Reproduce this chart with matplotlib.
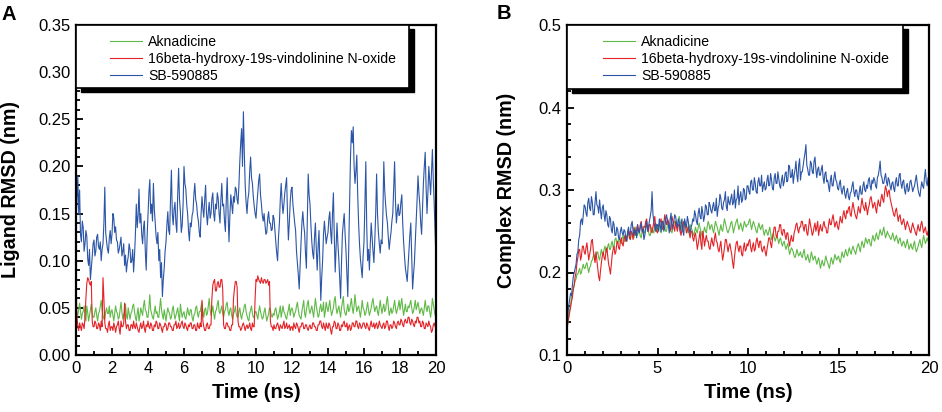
import numpy as np
import matplotlib
matplotlib.use("Agg")
from matplotlib import pyplot as plt
from matplotlib.patches import Rectangle
from matplotlib.ticker import MultipleLocator

plt.rcParams['font.family'] = ['Liberation Sans', 'DejaVu Sans']

# time axis, ns (one frame every 0.05 ns)
time = np.linspace(0, 20, 401)

labels = ["Aknadicine", "16beta-hydroxy-19s-vindolinine N-oxide", "SB-590885"]
colors = ["#5fb946", "#e32226", "#2b55a6"]

# panel A: ligand RMSD (nm), one row per ns
lig_akn = [
    0.050, 0.044, 0.042, 0.048, 0.055, 0.046, 0.038, 0.044, 0.046, 0.052, 0.040, 0.036, 0.052, 0.045, 0.036, 0.042, 0.048, 0.054, 0.044, 0.040,
    0.040, 0.046, 0.050, 0.042, 0.036, 0.044, 0.046, 0.052, 0.058, 0.048, 0.042, 0.038, 0.038, 0.046, 0.050, 0.044, 0.044, 0.052, 0.040, 0.046,
    0.048, 0.042, 0.036, 0.044, 0.052, 0.046, 0.044, 0.038, 0.040, 0.048, 0.056, 0.046, 0.038, 0.042, 0.046, 0.054, 0.042, 0.038, 0.050, 0.044,
    0.038, 0.044, 0.046, 0.052, 0.054, 0.046, 0.040, 0.036, 0.044, 0.050, 0.036, 0.042, 0.050, 0.046, 0.042, 0.052, 0.058, 0.048, 0.046, 0.040,
    0.040, 0.050, 0.064, 0.048, 0.044, 0.040, 0.038, 0.046, 0.052, 0.044, 0.046, 0.040, 0.040, 0.050, 0.060, 0.048, 0.042, 0.038, 0.048, 0.042,
    0.036, 0.044, 0.050, 0.046, 0.044, 0.038, 0.040, 0.048, 0.052, 0.044, 0.038, 0.042, 0.046, 0.050, 0.042, 0.036, 0.054, 0.046, 0.040, 0.044,
    0.046, 0.040, 0.038, 0.044, 0.050, 0.044, 0.042, 0.048, 0.048, 0.040, 0.036, 0.042, 0.044, 0.050, 0.052, 0.044, 0.040, 0.046, 0.046, 0.052,
    0.056, 0.046, 0.040, 0.048, 0.050, 0.042, 0.044, 0.052, 0.060, 0.048, 0.042, 0.046, 0.052, 0.044, 0.038, 0.046, 0.048, 0.054, 0.058, 0.046,
    0.044, 0.048, 0.052, 0.044, 0.040, 0.046, 0.048, 0.054, 0.056, 0.046, 0.042, 0.048, 0.050, 0.042, 0.038, 0.044, 0.046, 0.052, 0.044, 0.040,
    0.040, 0.046, 0.050, 0.042, 0.038, 0.044, 0.046, 0.052, 0.054, 0.046, 0.042, 0.038, 0.036, 0.044, 0.048, 0.052, 0.044, 0.040, 0.040, 0.046,
    0.046, 0.042, 0.038, 0.046, 0.052, 0.046, 0.042, 0.038, 0.040, 0.046, 0.050, 0.042, 0.036, 0.040, 0.044, 0.050, 0.048, 0.042, 0.040, 0.044,
    0.042, 0.048, 0.050, 0.044, 0.038, 0.042, 0.046, 0.052, 0.040, 0.046, 0.052, 0.046, 0.044, 0.040, 0.038, 0.044, 0.048, 0.054, 0.042, 0.048,
    0.050, 0.046, 0.040, 0.044, 0.046, 0.052, 0.056, 0.048, 0.042, 0.040, 0.038, 0.046, 0.052, 0.058, 0.044, 0.040, 0.048, 0.054, 0.058, 0.048,
    0.044, 0.048, 0.052, 0.046, 0.040, 0.050, 0.060, 0.052, 0.046, 0.040, 0.042, 0.050, 0.054, 0.046, 0.048, 0.056, 0.040, 0.046, 0.056, 0.050,
    0.046, 0.052, 0.058, 0.048, 0.042, 0.046, 0.050, 0.058, 0.062, 0.050, 0.044, 0.048, 0.052, 0.046, 0.040, 0.050, 0.056, 0.062, 0.048, 0.044,
    0.042, 0.048, 0.054, 0.046, 0.048, 0.054, 0.060, 0.050, 0.044, 0.052, 0.064, 0.054, 0.046, 0.050, 0.052, 0.046, 0.040, 0.048, 0.058, 0.050,
    0.048, 0.042, 0.044, 0.050, 0.056, 0.048, 0.042, 0.046, 0.050, 0.056, 0.060, 0.052, 0.046, 0.050, 0.052, 0.046, 0.042, 0.050, 0.058, 0.050,
    0.044, 0.050, 0.054, 0.046, 0.048, 0.056, 0.062, 0.052, 0.042, 0.046, 0.050, 0.044, 0.046, 0.052, 0.058, 0.050, 0.044, 0.048, 0.052, 0.058,
    0.048, 0.054, 0.060, 0.050, 0.042, 0.048, 0.054, 0.046, 0.046, 0.052, 0.050, 0.054, 0.058, 0.050, 0.044, 0.046, 0.052, 0.058, 0.048, 0.052,
    0.056, 0.050, 0.044, 0.048, 0.050, 0.046, 0.042, 0.050, 0.058, 0.050, 0.046, 0.052, 0.052, 0.046, 0.040, 0.048, 0.060, 0.054, 0.048, 0.042,
    0.044]
lig_vin = [
    0.080, 0.042, 0.030, 0.026, 0.034, 0.030, 0.026, 0.034, 0.032, 0.028, 0.040, 0.060, 0.076, 0.082, 0.080, 0.076, 0.074, 0.078, 0.036, 0.030,
    0.030, 0.036, 0.034, 0.028, 0.028, 0.034, 0.032, 0.026, 0.036, 0.030, 0.082, 0.060, 0.034, 0.028, 0.028, 0.024, 0.032, 0.036, 0.026, 0.030,
    0.030, 0.026, 0.034, 0.030, 0.024, 0.030, 0.032, 0.036, 0.028, 0.022, 0.036, 0.030, 0.030, 0.034, 0.055, 0.036, 0.028, 0.032, 0.032, 0.026,
    0.026, 0.032, 0.032, 0.028, 0.036, 0.030, 0.028, 0.034, 0.030, 0.026, 0.024, 0.030, 0.034, 0.028, 0.030, 0.036, 0.028, 0.024, 0.032, 0.030,
    0.036, 0.030, 0.028, 0.034, 0.032, 0.026, 0.026, 0.032, 0.030, 0.036, 0.034, 0.028, 0.028, 0.034, 0.032, 0.028, 0.024, 0.030, 0.030, 0.034,
    0.032, 0.026, 0.028, 0.034, 0.034, 0.030, 0.030, 0.026, 0.026, 0.032, 0.032, 0.036, 0.028, 0.030, 0.034, 0.028, 0.030, 0.034, 0.036, 0.030,
    0.028, 0.034, 0.032, 0.028, 0.026, 0.032, 0.030, 0.034, 0.034, 0.028, 0.028, 0.032, 0.032, 0.026, 0.026, 0.034, 0.030, 0.028, 0.034, 0.030,
    0.058, 0.036, 0.030, 0.026, 0.026, 0.032, 0.034, 0.028, 0.028, 0.032, 0.032, 0.060, 0.074, 0.078, 0.080, 0.068, 0.068, 0.076, 0.078, 0.072,
    0.072, 0.080, 0.080, 0.070, 0.032, 0.028, 0.028, 0.034, 0.034, 0.030, 0.030, 0.026, 0.026, 0.032, 0.032, 0.060, 0.070, 0.078, 0.078, 0.072,
    0.036, 0.030, 0.030, 0.026, 0.028, 0.032, 0.034, 0.030, 0.026, 0.030, 0.032, 0.028, 0.030, 0.034, 0.028, 0.026, 0.034, 0.030, 0.030, 0.060,
    0.080, 0.078, 0.084, 0.080, 0.078, 0.076, 0.082, 0.078, 0.076, 0.080, 0.080, 0.076, 0.078, 0.080, 0.074, 0.078, 0.036, 0.030, 0.030, 0.026,
    0.032, 0.028, 0.028, 0.032, 0.034, 0.030, 0.026, 0.032, 0.030, 0.028, 0.032, 0.036, 0.028, 0.030, 0.034, 0.028, 0.030, 0.032, 0.026, 0.030,
    0.030, 0.026, 0.034, 0.030, 0.028, 0.034, 0.032, 0.028, 0.024, 0.030, 0.030, 0.034, 0.034, 0.028, 0.028, 0.032, 0.032, 0.028, 0.026, 0.030,
    0.032, 0.028, 0.028, 0.034, 0.034, 0.030, 0.030, 0.026, 0.026, 0.032, 0.032, 0.036, 0.036, 0.030, 0.028, 0.034, 0.030, 0.026, 0.034, 0.030,
    0.028, 0.034, 0.032, 0.026, 0.022, 0.030, 0.030, 0.036, 0.034, 0.028, 0.028, 0.034, 0.032, 0.026, 0.026, 0.032, 0.030, 0.034, 0.036, 0.030,
    0.030, 0.034, 0.026, 0.030, 0.032, 0.026, 0.028, 0.034, 0.034, 0.030, 0.030, 0.036, 0.036, 0.030, 0.028, 0.034, 0.032, 0.028, 0.030, 0.034,
    0.034, 0.030, 0.028, 0.034, 0.032, 0.028, 0.026, 0.032, 0.036, 0.030, 0.030, 0.034, 0.028, 0.032, 0.034, 0.028, 0.030, 0.036, 0.032, 0.030,
    0.028, 0.032, 0.034, 0.028, 0.030, 0.036, 0.036, 0.030, 0.026, 0.032, 0.032, 0.028, 0.030, 0.036, 0.034, 0.030, 0.028, 0.034, 0.036, 0.032,
    0.032, 0.038, 0.036, 0.032, 0.030, 0.036, 0.038, 0.034, 0.034, 0.040, 0.040, 0.034, 0.032, 0.038, 0.036, 0.032, 0.030, 0.036, 0.034, 0.040,
    0.040, 0.034, 0.036, 0.030, 0.030, 0.036, 0.034, 0.028, 0.028, 0.034, 0.032, 0.030, 0.036, 0.032, 0.030, 0.024, 0.026, 0.032, 0.034, 0.030,
    0.030]
lig_sb = [
    0.140, 0.165, 0.190, 0.150, 0.175, 0.128, 0.120, 0.142, 0.135, 0.110, 0.118, 0.132, 0.126, 0.102, 0.095, 0.112, 0.080, 0.092, 0.104, 0.118,
    0.122, 0.105, 0.110, 0.125, 0.128, 0.115, 0.112, 0.120, 0.100, 0.112, 0.118, 0.140, 0.178, 0.130, 0.120, 0.112, 0.108, 0.124, 0.132, 0.118,
    0.128, 0.150, 0.145, 0.130, 0.136, 0.122, 0.120, 0.108, 0.112, 0.118, 0.125, 0.105, 0.110, 0.118, 0.095, 0.106, 0.088, 0.098, 0.104, 0.118,
    0.112, 0.098, 0.100, 0.112, 0.088, 0.105, 0.128, 0.160, 0.135, 0.148, 0.176, 0.140, 0.150, 0.128, 0.118, 0.135, 0.142, 0.110, 0.090, 0.125,
    0.150, 0.172, 0.186, 0.150, 0.160, 0.142, 0.182, 0.155, 0.140, 0.126, 0.118, 0.130, 0.100, 0.112, 0.082, 0.098, 0.062, 0.080, 0.092, 0.110,
    0.120, 0.138, 0.152, 0.132, 0.128, 0.165, 0.196, 0.150, 0.138, 0.155, 0.162, 0.140, 0.130, 0.170, 0.198, 0.165, 0.152, 0.130, 0.138, 0.160,
    0.200, 0.182, 0.176, 0.160, 0.150, 0.132, 0.121, 0.140, 0.136, 0.148, 0.152, 0.170, 0.182, 0.165, 0.160, 0.148, 0.142, 0.130, 0.125, 0.150,
    0.168, 0.155, 0.146, 0.165, 0.180, 0.150, 0.138, 0.152, 0.162, 0.145, 0.150, 0.166, 0.172, 0.150, 0.142, 0.160, 0.155, 0.172, 0.166, 0.150,
    0.140, 0.165, 0.182, 0.158, 0.160, 0.142, 0.131, 0.165, 0.188, 0.150, 0.120, 0.148, 0.170, 0.160, 0.150, 0.168, 0.162, 0.178, 0.176, 0.165,
    0.160, 0.180, 0.205, 0.225, 0.240, 0.200, 0.258, 0.215, 0.180, 0.162, 0.150, 0.165, 0.172, 0.195, 0.210, 0.188, 0.182, 0.168, 0.158, 0.150,
    0.145, 0.160, 0.172, 0.185, 0.192, 0.170, 0.160, 0.148, 0.142, 0.150, 0.138, 0.128, 0.130, 0.145, 0.152, 0.140, 0.140, 0.132, 0.133, 0.148,
    0.145, 0.132, 0.120, 0.108, 0.100, 0.125, 0.140, 0.165, 0.182, 0.162, 0.150, 0.160, 0.172, 0.180, 0.188, 0.150, 0.122, 0.140, 0.162, 0.175,
    0.178, 0.160, 0.150, 0.140, 0.132, 0.110, 0.098, 0.085, 0.070, 0.095, 0.118, 0.140, 0.152, 0.138, 0.130, 0.108, 0.092, 0.140, 0.192, 0.170,
    0.160, 0.138, 0.120, 0.108, 0.102, 0.125, 0.140, 0.112, 0.090, 0.115, 0.132, 0.095, 0.058, 0.082, 0.100, 0.128, 0.142, 0.130, 0.118, 0.125,
    0.130, 0.145, 0.152, 0.130, 0.118, 0.150, 0.172, 0.125, 0.088, 0.115, 0.140, 0.118, 0.102, 0.080, 0.060, 0.098, 0.128, 0.140, 0.150, 0.128,
    0.110, 0.085, 0.062, 0.110, 0.160, 0.210, 0.238, 0.225, 0.242, 0.200, 0.182, 0.195, 0.212, 0.170, 0.140, 0.118, 0.102, 0.092, 0.082, 0.105,
    0.120, 0.160, 0.205, 0.138, 0.100, 0.112, 0.090, 0.118, 0.140, 0.125, 0.110, 0.098, 0.122, 0.150, 0.192, 0.150, 0.130, 0.118, 0.108, 0.122,
    0.118, 0.150, 0.205, 0.175, 0.160, 0.148, 0.140, 0.125, 0.112, 0.122, 0.130, 0.142, 0.150, 0.178, 0.205, 0.162, 0.140, 0.152, 0.160, 0.148,
    0.150, 0.162, 0.170, 0.140, 0.120, 0.105, 0.092, 0.085, 0.078, 0.095, 0.110, 0.128, 0.140, 0.105, 0.070, 0.085, 0.098, 0.120, 0.142, 0.165,
    0.190, 0.172, 0.160, 0.140, 0.128, 0.155, 0.182, 0.200, 0.215, 0.178, 0.150, 0.172, 0.200, 0.185, 0.170, 0.195, 0.218, 0.185, 0.160, 0.130,
    0.100]

# panel B: complex RMSD (nm), one row per ns
cpx_akn = [
    0.130, 0.140, 0.150, 0.155, 0.162, 0.170, 0.175, 0.180, 0.185, 0.190, 0.192, 0.198, 0.198, 0.202, 0.205, 0.198, 0.200, 0.206, 0.210, 0.205,
    0.205, 0.210, 0.212, 0.205, 0.200, 0.206, 0.208, 0.214, 0.215, 0.220, 0.222, 0.215, 0.218, 0.224, 0.225, 0.218, 0.215, 0.222, 0.228, 0.222,
    0.222, 0.228, 0.232, 0.225, 0.225, 0.232, 0.235, 0.228, 0.228, 0.235, 0.238, 0.230, 0.232, 0.240, 0.242, 0.236, 0.235, 0.240, 0.240, 0.236,
    0.235, 0.242, 0.245, 0.238, 0.238, 0.245, 0.242, 0.246, 0.250, 0.242, 0.240, 0.246, 0.248, 0.242, 0.242, 0.252, 0.255, 0.248, 0.245, 0.250,
    0.250, 0.244, 0.242, 0.250, 0.255, 0.248, 0.248, 0.255, 0.258, 0.252, 0.250, 0.245, 0.245, 0.252, 0.255, 0.250, 0.248, 0.256, 0.260, 0.254,
    0.252, 0.256, 0.258, 0.250, 0.248, 0.256, 0.262, 0.258, 0.255, 0.250, 0.250, 0.258, 0.262, 0.258, 0.255, 0.250, 0.248, 0.254, 0.258, 0.262,
    0.262, 0.258, 0.255, 0.262, 0.268, 0.262, 0.258, 0.252, 0.250, 0.258, 0.262, 0.256, 0.255, 0.250, 0.248, 0.254, 0.258, 0.255, 0.252, 0.248,
    0.245, 0.250, 0.255, 0.250, 0.248, 0.255, 0.260, 0.254, 0.250, 0.245, 0.242, 0.250, 0.255, 0.250, 0.248, 0.256, 0.262, 0.258, 0.252, 0.256,
    0.258, 0.252, 0.248, 0.255, 0.262, 0.258, 0.255, 0.250, 0.245, 0.252, 0.258, 0.252, 0.250, 0.258, 0.265, 0.260, 0.255, 0.250, 0.248, 0.252,
    0.255, 0.260, 0.262, 0.255, 0.248, 0.254, 0.258, 0.262, 0.265, 0.258, 0.252, 0.256, 0.260, 0.255, 0.250, 0.256, 0.262, 0.258, 0.255, 0.258,
    0.258, 0.262, 0.265, 0.258, 0.252, 0.258, 0.262, 0.258, 0.255, 0.250, 0.248, 0.255, 0.260, 0.255, 0.252, 0.256, 0.258, 0.250, 0.245, 0.250,
    0.252, 0.248, 0.245, 0.250, 0.255, 0.248, 0.240, 0.244, 0.248, 0.242, 0.238, 0.242, 0.245, 0.240, 0.235, 0.240, 0.242, 0.236, 0.232, 0.236,
    0.238, 0.232, 0.228, 0.232, 0.235, 0.228, 0.222, 0.226, 0.230, 0.228, 0.225, 0.220, 0.218, 0.222, 0.228, 0.224, 0.220, 0.222, 0.225, 0.220,
    0.218, 0.224, 0.228, 0.220, 0.215, 0.218, 0.222, 0.216, 0.212, 0.218, 0.225, 0.220, 0.215, 0.218, 0.220, 0.215, 0.210, 0.214, 0.218, 0.212,
    0.205, 0.210, 0.215, 0.210, 0.208, 0.214, 0.220, 0.215, 0.212, 0.208, 0.205, 0.212, 0.218, 0.214, 0.210, 0.216, 0.222, 0.218, 0.215, 0.218,
    0.220, 0.215, 0.212, 0.218, 0.225, 0.220, 0.218, 0.224, 0.228, 0.222, 0.220, 0.226, 0.230, 0.225, 0.222, 0.228, 0.232, 0.228, 0.225, 0.222,
    0.228, 0.232, 0.235, 0.230, 0.225, 0.232, 0.238, 0.234, 0.230, 0.236, 0.242, 0.238, 0.235, 0.240, 0.240, 0.234, 0.232, 0.240, 0.245, 0.240,
    0.238, 0.244, 0.248, 0.242, 0.240, 0.246, 0.252, 0.248, 0.245, 0.250, 0.255, 0.248, 0.242, 0.246, 0.250, 0.246, 0.245, 0.242, 0.240, 0.244,
    0.248, 0.242, 0.238, 0.242, 0.245, 0.240, 0.235, 0.240, 0.242, 0.236, 0.232, 0.236, 0.238, 0.234, 0.230, 0.235, 0.240, 0.234, 0.228, 0.232,
    0.235, 0.230, 0.228, 0.234, 0.238, 0.230, 0.225, 0.228, 0.232, 0.236, 0.240, 0.234, 0.230, 0.238, 0.245, 0.240, 0.235, 0.238, 0.242, 0.238,
    0.238]
cpx_vin = [
    0.130, 0.140, 0.145, 0.152, 0.158, 0.165, 0.170, 0.180, 0.185, 0.195, 0.200, 0.212, 0.218, 0.228, 0.228, 0.215, 0.220, 0.232, 0.232, 0.225,
    0.222, 0.230, 0.236, 0.225, 0.215, 0.222, 0.228, 0.238, 0.240, 0.228, 0.218, 0.212, 0.225, 0.215, 0.205, 0.195, 0.190, 0.202, 0.212, 0.220,
    0.225, 0.218, 0.215, 0.225, 0.230, 0.220, 0.210, 0.205, 0.198, 0.210, 0.222, 0.228, 0.232, 0.222, 0.225, 0.235, 0.238, 0.230, 0.228, 0.238,
    0.242, 0.235, 0.232, 0.240, 0.245, 0.238, 0.238, 0.246, 0.250, 0.242, 0.240, 0.250, 0.248, 0.240, 0.255, 0.250, 0.245, 0.252, 0.258, 0.250,
    0.250, 0.258, 0.262, 0.252, 0.248, 0.256, 0.255, 0.262, 0.265, 0.255, 0.250, 0.258, 0.258, 0.250, 0.248, 0.255, 0.262, 0.268, 0.255, 0.250,
    0.248, 0.255, 0.258, 0.262, 0.265, 0.255, 0.252, 0.260, 0.270, 0.262, 0.258, 0.265, 0.262, 0.255, 0.250, 0.258, 0.268, 0.262, 0.255, 0.250,
    0.262, 0.255, 0.250, 0.258, 0.258, 0.250, 0.245, 0.252, 0.255, 0.262, 0.262, 0.255, 0.248, 0.252, 0.256, 0.248, 0.242, 0.250, 0.250, 0.242,
    0.238, 0.245, 0.248, 0.238, 0.228, 0.235, 0.242, 0.250, 0.235, 0.228, 0.250, 0.242, 0.232, 0.240, 0.245, 0.238, 0.238, 0.230, 0.228, 0.236,
    0.242, 0.235, 0.232, 0.242, 0.248, 0.238, 0.236, 0.228, 0.225, 0.232, 0.238, 0.225, 0.215, 0.222, 0.230, 0.240, 0.240, 0.232, 0.225, 0.232,
    0.235, 0.228, 0.222, 0.212, 0.205, 0.218, 0.228, 0.236, 0.238, 0.230, 0.225, 0.232, 0.232, 0.222, 0.220, 0.230, 0.236, 0.226, 0.228, 0.235,
    0.232, 0.238, 0.240, 0.230, 0.225, 0.232, 0.236, 0.226, 0.228, 0.238, 0.242, 0.235, 0.230, 0.238, 0.238, 0.228, 0.225, 0.230, 0.232, 0.225,
    0.220, 0.228, 0.235, 0.242, 0.242, 0.235, 0.230, 0.240, 0.248, 0.255, 0.255, 0.245, 0.242, 0.250, 0.250, 0.258, 0.258, 0.248, 0.245, 0.252,
    0.252, 0.245, 0.240, 0.248, 0.248, 0.238, 0.232, 0.240, 0.245, 0.238, 0.238, 0.248, 0.252, 0.258, 0.260, 0.252, 0.248, 0.255, 0.255, 0.262,
    0.262, 0.255, 0.250, 0.258, 0.258, 0.248, 0.245, 0.255, 0.265, 0.258, 0.252, 0.245, 0.248, 0.255, 0.260, 0.250, 0.255, 0.262, 0.245, 0.252,
    0.258, 0.252, 0.250, 0.258, 0.262, 0.255, 0.255, 0.248, 0.248, 0.258, 0.265, 0.258, 0.258, 0.265, 0.270, 0.262, 0.255, 0.260, 0.262, 0.255,
    0.252, 0.260, 0.268, 0.262, 0.260, 0.270, 0.275, 0.268, 0.265, 0.275, 0.272, 0.278, 0.280, 0.270, 0.268, 0.278, 0.285, 0.278, 0.272, 0.268,
    0.265, 0.272, 0.280, 0.275, 0.272, 0.282, 0.290, 0.282, 0.278, 0.275, 0.285, 0.278, 0.270, 0.278, 0.282, 0.290, 0.292, 0.285, 0.278, 0.282,
    0.285, 0.278, 0.272, 0.282, 0.288, 0.282, 0.280, 0.290, 0.295, 0.288, 0.285, 0.298, 0.305, 0.300, 0.292, 0.298, 0.300, 0.290, 0.285, 0.280,
    0.275, 0.270, 0.268, 0.275, 0.278, 0.270, 0.262, 0.268, 0.270, 0.262, 0.258, 0.262, 0.265, 0.258, 0.252, 0.258, 0.262, 0.258, 0.255, 0.250,
    0.248, 0.255, 0.260, 0.255, 0.252, 0.248, 0.245, 0.252, 0.258, 0.252, 0.250, 0.258, 0.262, 0.255, 0.248, 0.252, 0.255, 0.248, 0.245, 0.250,
    0.252]
cpx_sb = [
    0.130, 0.150, 0.160, 0.168, 0.175, 0.172, 0.185, 0.195, 0.200, 0.205, 0.210, 0.222, 0.225, 0.240, 0.245, 0.262, 0.265, 0.258, 0.270, 0.282,
    0.280, 0.272, 0.268, 0.285, 0.290, 0.278, 0.275, 0.292, 0.285, 0.270, 0.270, 0.285, 0.298, 0.282, 0.280, 0.272, 0.288, 0.275, 0.265, 0.278,
    0.282, 0.270, 0.262, 0.275, 0.270, 0.258, 0.255, 0.268, 0.265, 0.252, 0.248, 0.262, 0.258, 0.245, 0.245, 0.255, 0.252, 0.242, 0.240, 0.250,
    0.255, 0.248, 0.245, 0.252, 0.250, 0.242, 0.238, 0.250, 0.255, 0.245, 0.248, 0.258, 0.262, 0.250, 0.245, 0.252, 0.250, 0.242, 0.258, 0.250,
    0.248, 0.255, 0.260, 0.250, 0.252, 0.240, 0.245, 0.255, 0.262, 0.250, 0.255, 0.262, 0.268, 0.275, 0.298, 0.270, 0.262, 0.255, 0.250, 0.258,
    0.258, 0.250, 0.265, 0.258, 0.250, 0.262, 0.262, 0.250, 0.255, 0.265, 0.270, 0.262, 0.258, 0.248, 0.265, 0.272, 0.252, 0.258, 0.262, 0.270,
    0.268, 0.260, 0.255, 0.265, 0.262, 0.250, 0.258, 0.265, 0.250, 0.245, 0.265, 0.258, 0.255, 0.268, 0.262, 0.252, 0.248, 0.255, 0.258, 0.265,
    0.262, 0.275, 0.270, 0.262, 0.258, 0.272, 0.278, 0.268, 0.265, 0.280, 0.272, 0.262, 0.268, 0.282, 0.280, 0.270, 0.270, 0.285, 0.282, 0.275,
    0.272, 0.280, 0.285, 0.275, 0.275, 0.290, 0.268, 0.278, 0.282, 0.295, 0.290, 0.278, 0.276, 0.285, 0.288, 0.298, 0.280, 0.275, 0.292, 0.285,
    0.282, 0.290, 0.295, 0.282, 0.285, 0.300, 0.278, 0.288, 0.290, 0.305, 0.282, 0.292, 0.298, 0.285, 0.288, 0.302, 0.300, 0.288, 0.290, 0.305,
    0.305, 0.298, 0.295, 0.310, 0.312, 0.300, 0.300, 0.315, 0.308, 0.298, 0.296, 0.310, 0.315, 0.305, 0.305, 0.318, 0.298, 0.305, 0.310, 0.300,
    0.302, 0.312, 0.318, 0.305, 0.306, 0.320, 0.312, 0.302, 0.300, 0.315, 0.320, 0.308, 0.308, 0.322, 0.314, 0.305, 0.302, 0.312, 0.318, 0.305,
    0.310, 0.320, 0.322, 0.310, 0.312, 0.330, 0.328, 0.315, 0.316, 0.325, 0.308, 0.318, 0.325, 0.335, 0.318, 0.310, 0.330, 0.338, 0.312, 0.322,
    0.322, 0.330, 0.338, 0.345, 0.355, 0.330, 0.325, 0.318, 0.318, 0.335, 0.332, 0.322, 0.320, 0.335, 0.340, 0.325, 0.315, 0.325, 0.328, 0.318,
    0.318, 0.325, 0.330, 0.315, 0.308, 0.320, 0.322, 0.310, 0.312, 0.305, 0.298, 0.312, 0.318, 0.305, 0.305, 0.315, 0.322, 0.312, 0.310, 0.302,
    0.300, 0.308, 0.312, 0.300, 0.295, 0.302, 0.305, 0.295, 0.290, 0.298, 0.302, 0.292, 0.288, 0.296, 0.298, 0.305, 0.310, 0.298, 0.292, 0.300,
    0.300, 0.292, 0.288, 0.298, 0.305, 0.295, 0.295, 0.305, 0.310, 0.300, 0.298, 0.306, 0.302, 0.312, 0.315, 0.305, 0.300, 0.312, 0.308, 0.315,
    0.312, 0.305, 0.302, 0.315, 0.318, 0.325, 0.335, 0.318, 0.315, 0.308, 0.308, 0.315, 0.320, 0.310, 0.305, 0.315, 0.312, 0.305, 0.300, 0.308,
    0.310, 0.302, 0.298, 0.310, 0.315, 0.305, 0.305, 0.318, 0.320, 0.308, 0.302, 0.310, 0.312, 0.300, 0.295, 0.305, 0.308, 0.298, 0.300, 0.310,
    0.312, 0.305, 0.298, 0.302, 0.305, 0.312, 0.318, 0.308, 0.300, 0.295, 0.292, 0.302, 0.310, 0.305, 0.302, 0.315, 0.325, 0.310, 0.305, 0.315,
    0.310]


def style_axes(ax, ymin, ymax, xmaj, ymaj, ymin_step, ylabel, yfmt, label_x):
    ax.set_xlim(0, 20)
    ax.set_ylim(ymin, ymax)
    ax.xaxis.set_major_locator(MultipleLocator(xmaj))
    ax.xaxis.set_minor_locator(MultipleLocator(1))
    ax.yaxis.set_major_locator(MultipleLocator(ymaj))
    ax.yaxis.set_minor_locator(MultipleLocator(ymin_step))
    ax.yaxis.set_major_formatter(yfmt)
    for s in ax.spines.values():
        s.set_linewidth(1.6)
    ax.tick_params(which='both', direction='in', top=False, right=False,
                   labelsize=12, width=1.3)
    ax.tick_params(which='major', length=5, pad=4)
    ax.tick_params(which='minor', length=3)
    ax.set_xlabel("Time (ns)", fontsize=14.4, fontweight='bold', labelpad=5)
    ax.set_ylabel(ylabel, fontsize=14.2, fontweight='bold')
    ax.yaxis.set_label_coords(label_x, 0.5)


def add_legend(ax, frame_w, frame_h, handle_x):
    # shadowed box, then the legend entries without frame
    ox = 4.5 / ax.bbox.width
    oy = 4.0 / ax.bbox.height
    ax.add_patch(Rectangle((ox, 1 - frame_h - oy), frame_w, frame_h,
                           transform=ax.transAxes, facecolor='black',
                           edgecolor='black', zorder=5, clip_on=False))
    ax.add_patch(Rectangle((0, 1 - frame_h), frame_w, frame_h,
                           transform=ax.transAxes, facecolor='white',
                           edgecolor='black', linewidth=1.2, zorder=6,
                           clip_on=False))
    leg = ax.legend(loc='upper left', bbox_to_anchor=(handle_x, 0.97),
                    frameon=False, fontsize=10.1, borderpad=0, borderaxespad=0,
                    handlelength=2.28, handletextpad=0.43, labelspacing=0.22)
    leg.set_zorder(7)


fig = plt.figure(figsize=(9.42, 4.12), dpi=100)
axA = fig.add_axes([76 / 942, 1 - 355 / 412, 360 / 942, 330 / 412])
axB = fig.add_axes([567 / 942, 1 - 355 / 412, 362 / 942, 330 / 412])

for ser, lab, col in zip([lig_akn, lig_vin, lig_sb], labels, colors):
    axA.plot(time, ser, color=col, linewidth=0.8, label=lab)
for ser, lab, col in zip([cpx_akn, cpx_vin, cpx_sb], labels, colors):
    axB.plot(time, ser, color=col, linewidth=0.8, label=lab)

style_axes(axA, 0.0, 0.35, 2, 0.05, 0.01, "Ligand RMSD (nm)", '{x:.2f}', -0.156)
style_axes(axB, 0.1, 0.5, 5, 0.1, 0.02, "Complex RMSD (nm)", '{x:.1f}', -0.141)

add_legend(axA, 333 / 360, 63 / 330, 34 / 360)
add_legend(axB, 336 / 362, 64 / 330, 36 / 362)

fig.text(1 / 942, 1 - 5 / 412, "A", fontsize=14.5, fontweight='bold', va='top', ha='left')
fig.text(497 / 942, 1 - 4 / 412, "B", fontsize=14.5, fontweight='bold', va='top', ha='left')

plt.savefig('out.png', dpi=100)
